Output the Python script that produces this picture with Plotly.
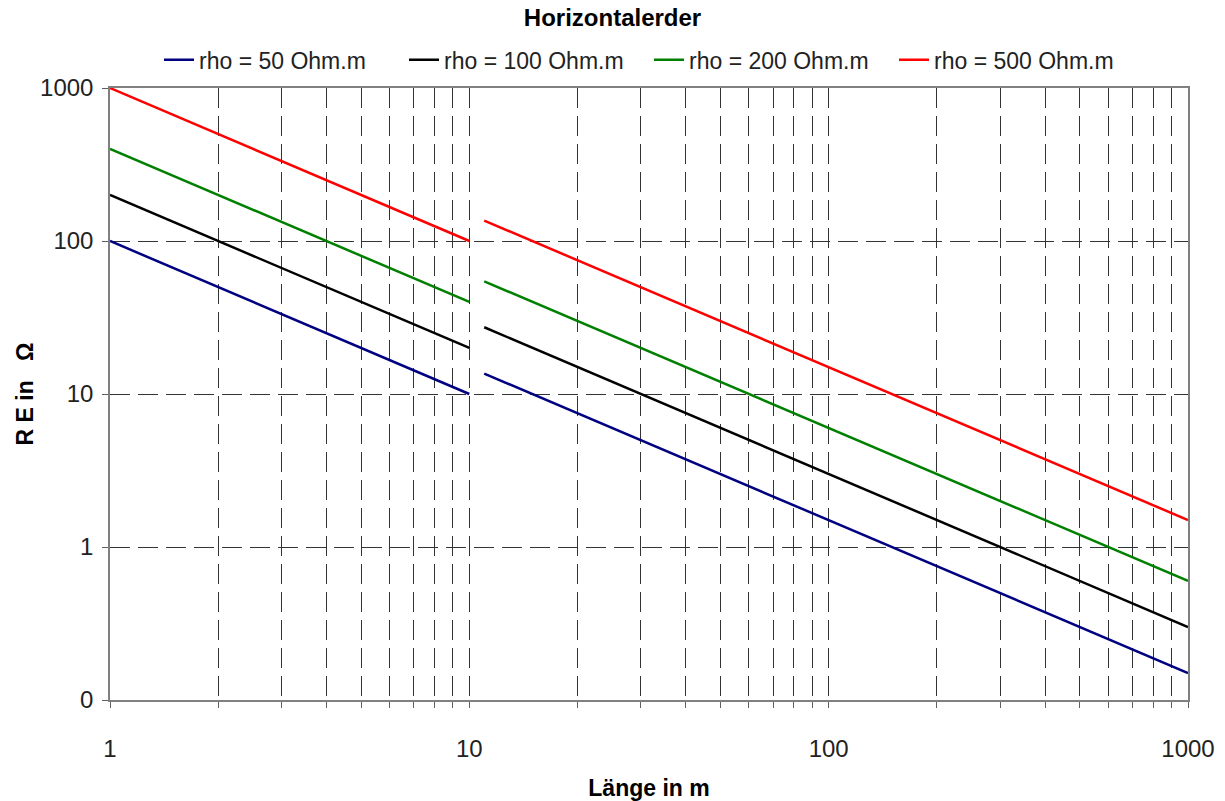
import plotly.graph_objects as go

# Earth resistance of a horizontal earth electrode vs. conductor length
series_names = ["rho = 50 Ohm.m", "rho = 100 Ohm.m", "rho = 200 Ohm.m", "rho = 500 Ohm.m"]
series_colors = ["#000080", "#000000", "#008000", "#FF0000"]

# first section: lengths 1 .. 10 m
length_a = [1, 10]
re_a_50 = [100, 10]
re_a_100 = [200, 20]
re_a_200 = [400, 40]
re_a_500 = [1000, 100]

# second section: lengths 11 .. 1000 m
length_b = [11, 1000]
re_b_50 = [13.6, 0.15]
re_b_100 = [27.3, 0.3]
re_b_200 = [54.5, 0.6]
re_b_500 = [136, 1.5]

x_tickvals = [m * 10 ** e for e in range(3) for m in range(1, 10)] + [1000]
x_ticktext = [str(v) if v in (1, 10, 100, 1000) else "" for v in x_tickvals]
y_tickvals = [0.1, 1, 10, 100, 1000]
y_ticktext = ["0", "1", "10", "100", "1000"]

sec_a = [re_a_50, re_a_100, re_a_200, re_a_500]
sec_b = [re_b_50, re_b_100, re_b_200, re_b_500]

fig = go.Figure()
for name, color, ya, yb in zip(series_names, series_colors, sec_a, sec_b):
    fig.add_trace(go.Scatter(x=length_a, y=ya, mode="lines", name=name,
                             legendgroup=name, line=dict(color=color, width=2.5)))
    fig.add_trace(go.Scatter(x=length_b, y=yb, mode="lines", name=name,
                             legendgroup=name, showlegend=False,
                             line=dict(color=color, width=2.5)))

font_family = "Liberation Sans, Arial, sans-serif"
grid = dict(showgrid=True, gridcolor="#333333", gridwidth=1, griddash="20px,8px",
            showline=True, linecolor="#808080", linewidth=1.5, mirror=True,
            ticks="outside", ticklen=6, tickcolor="#606060", zeroline=False)

fig.update_xaxes(type="log", range=[0, 3], tickmode="array", tickvals=x_tickvals,
                 ticktext=x_ticktext, ticklabelstandoff=20,
                 title=dict(text="<b>Länge in m</b>", standoff=19,
                            font=dict(size=23, color="#000")),
                 **grid)
fig.update_yaxes(type="log", range=[-1, 3], tickmode="array", tickvals=y_tickvals,
                 ticktext=y_ticktext, ticklabelstandoff=4,
                 title=dict(text="<b>R E in   Ω</b>", standoff=0,
                            font=dict(size=23, color="#000")),
                 **grid)

fig.update_layout(
    width=1225, height=801,
    margin=dict(l=110, r=37, t=88, b=101, autoexpand=False),
    paper_bgcolor="white", plot_bgcolor="white",
    font=dict(family=font_family, size=24, color="#222"),
    title=dict(text="<b>Horizontalerder</b>", x=0.5, xref="container",
               y=1 - 18 / 801, yanchor="middle", font=dict(size=24, color="#000")),
    legend=dict(orientation="h", x=0.5, xanchor="center", y=1.046, yanchor="middle",
                font=dict(size=23, color="#222"), itemwidth=30, tracegroupgap=0,
                entrywidth=200, bgcolor="rgba(0,0,0,0)"),
)

fig.write_html("out.html")
